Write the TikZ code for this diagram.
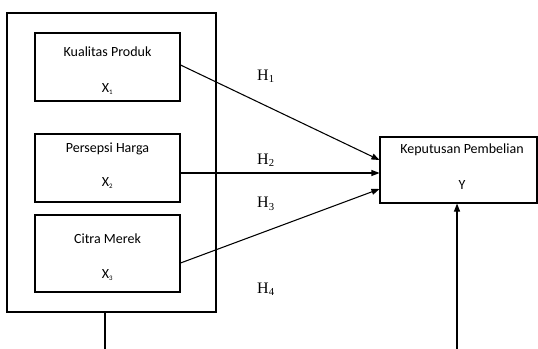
\documentclass[tikz,border=0pt]{standalone}
\usepackage{fontspec}
\setmainfont{Carlito}
\newfontfamily\hfont{Liberation Serif}
\usetikzlibrary{calc,arrows.meta}
\begin{document}
\begin{tikzpicture}[x=0.75pt,y=-0.75pt,
  box/.style={draw=black,line width=0.8pt,inner sep=0pt,rectangle},
  lbl/.style={inner sep=0pt,font=\fontsize{10.5}{12}\selectfont},
  hyp/.style={inner sep=0pt,font=\hfont\fontsize{12}{14}\selectfont},
  conn/.style={line width=0.8pt,-{Triangle[length=6pt,width=4.5pt]}},
  plain/.style={line width=0.8pt}]
\useasboundingbox (0,0) rectangle (538,349);
% outer box
\node[box,minimum width=156.75pt,minimum height=224.25pt] (outer) at (111.5,162.5) {};
% inner boxes
\node[box,minimum width=108.75pt,minimum height=51pt] (b1) at (107.5,67) {};
\node[box,minimum width=108.75pt,minimum height=51pt] (b2) at (107.5,168) {};
\node[box,minimum width=108.75pt,minimum height=57.75pt] (b3) at (107.5,253.5) {};
\node[box,minimum width=117.75pt,minimum height=49.5pt] (yb) at (458.5,170) {};
% texts
\node[lbl] (t1) at (107.5,52) {Kualitas Produk};
\node[lbl] (x1) at (107.5,89) {X\textsubscript{\scalebox{0.7}{1}}};
\node[lbl] (t2) at (107.5,149) {Persepsi Harga};
\node[lbl] (x2) at (107.5,183) {X\textsubscript{\scalebox{0.7}{2}}};
\node[lbl] (t3) at (107.5,239) {Citra Merek};
\node[lbl] (x3) at (107.5,275) {X\textsubscript{\scalebox{0.7}{3}}};
\node[lbl] (ty) at (462,150) {Keputusan Pembelian};
\node[lbl] (yy) at (462,185) {Y};
% hypothesis labels
\node[hyp] (h1) at (266,76) {H\textsubscript{1}};
\node[hyp] (h2) at (266,160) {H\textsubscript{2}};
\node[hyp] (h3) at (266,204) {H\textsubscript{3}};
\node[hyp] (h4) at (266,289) {H\textsubscript{4}};
% connectors
\draw[conn] ($(b1.east)+(0,-2)$) -- ($(yb.west)+(0,-10)$);
\draw[conn] ($(b2.east)+(0,5)$) -- ($(yb.west)+(0,3)$);
\draw[conn] ($(b3.east)+(0,9.5)$) -- ($(yb.west)+(0,19)$);
\coordinate (endL) at (105,349);
\coordinate (startR) at (457,349);
\draw[plain] ($(outer.south)+(-6.5,0)$) -- (endL);
\draw[conn] (startR) -- ($(yb.south)+(-1.5,0)$);
\end{tikzpicture}
\end{document}
